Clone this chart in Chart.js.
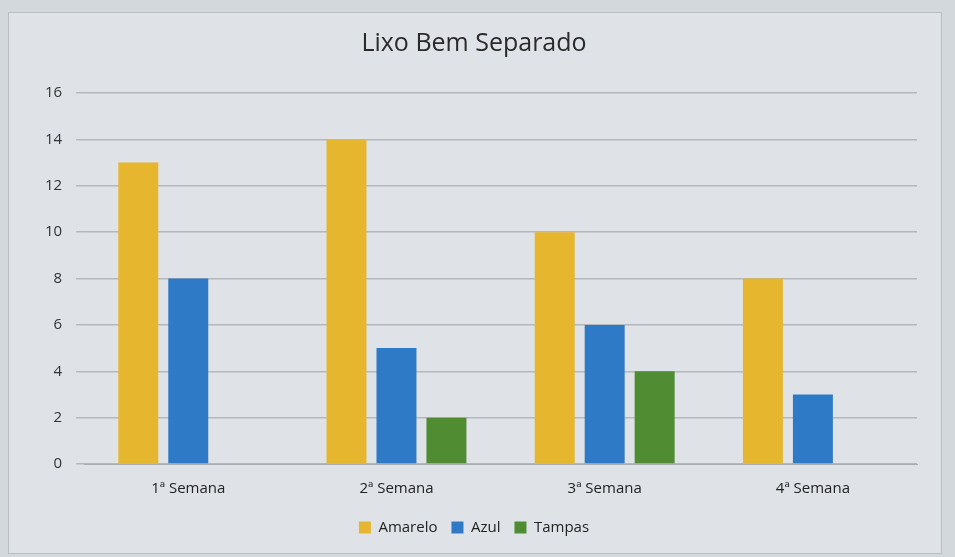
<!DOCTYPE html>
<html>
<head>
<meta charset="utf-8">
<script src="https://cdn.jsdelivr.net/npm/chart.js@4"></script>
<style>
  html, body { margin: 0; padding: 0; background: #d3d8dd; }
  #box {
    position: absolute; left: 8px; top: 12px; width: 932px; height: 540px;
    background: #dfe3e7; border: 1px solid #b9bec4;
  }
</style>
</head>
<body>
<div id="box"><canvas id="lixo" width="932" height="540"></canvas></div>
<script>
// lixo bem separado, por semana

const ctx = document.getElementById('lixo');

const semanas = ['1ª Semana', '2ª Semana', '3ª Semana', '4ª Semana'];

const amarelo = [13, 14, 10, 8];
const azul = [8, 5, 6, 3];
const tampas = [0, 2, 4, 0];

const font = "'Open Sans', 'DejaVu Sans', sans-serif";

const graph = new Chart(ctx, {
    type: 'bar',
    data: {
        labels: semanas,
        datasets: [
            { label: 'Amarelo', data: amarelo, backgroundColor: '#e7b62f' },
            { label: 'Azul', data: azul, backgroundColor: '#2f7ac6' },
            { label: 'Tampas', data: tampas, backgroundColor: '#4f8c32' }
        ]
    },
    options: {
        responsive: false,
        maintainAspectRatio: false,
        animation: false,
        categoryPercentage: 0.72,
        barPercentage: 0.8,
        layout: { padding: { left: 22, right: 24, top: 4, bottom: 8 } },
        plugins: {
            title: {
                display: true,
                text: 'Lixo Bem Separado',
                color: '#2a2a2a',
                font: { family: font, size: 25, weight: 'normal' },
                padding: { top: 12, bottom: 34 }
            },
            legend: {
                position: 'bottom',
                labels: {
                    color: '#222',
                    font: { family: font, size: 15 },
                    boxWidth: 12, boxHeight: 12,
                    padding: 14
                }
            },
            tooltip: { enabled: false }
        },
        scales: {
            x: {
                grid: { display: false },
                border: { color: '#a9aeb3' },
                ticks: { color: '#222', font: { family: font, size: 15 }, padding: 8 }
            },
            y: {
                min: 0, max: 16,
                ticks: { stepSize: 2, color: '#333', font: { family: font, size: 15 }, padding: 14 },
                grid: { color: '#b3b8bd', lineWidth: 1.5 },
                border: { display: false }
            }
        }
    }
});
</script>
</body>
</html>
